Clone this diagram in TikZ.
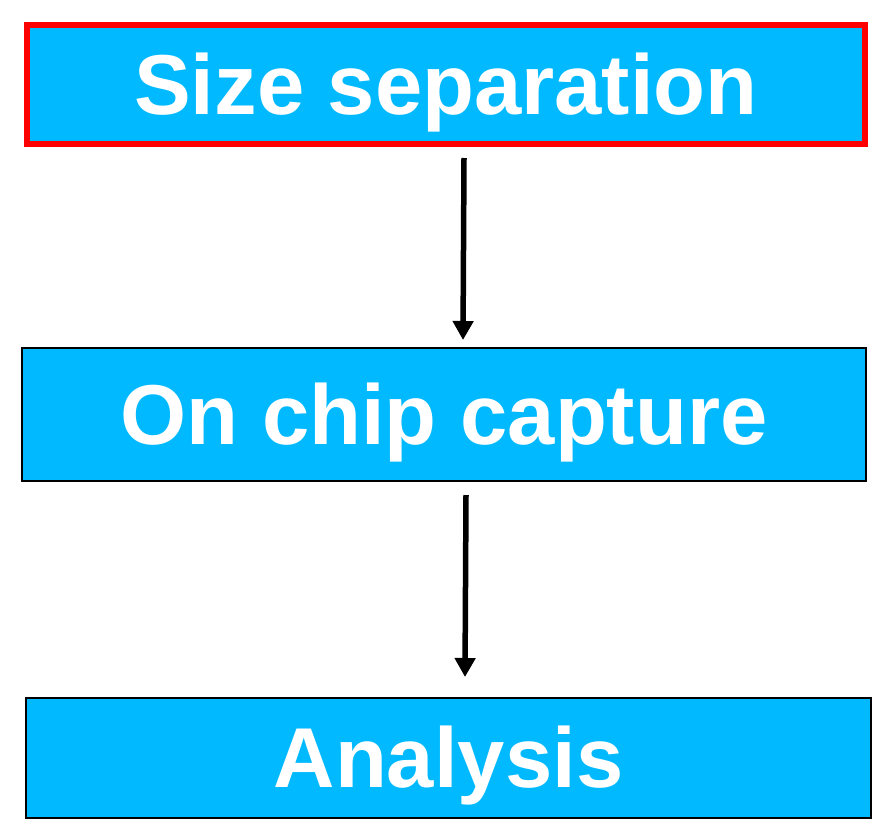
\documentclass[tikz,border=0pt]{standalone}
\usepackage{fontspec}
\setmainfont{Liberation Sans}
\usetikzlibrary{arrows.meta}
\definecolor{boxcyan}{RGB}{0,185,255}
\definecolor{boxred}{RGB}{255,0,0}
\tikzset{
  stepbox/.style={rectangle, fill=boxcyan, draw=black, line width=2pt,
    text=white, font=\fontsize{85}{90}\selectfont\bfseries, inner sep=0pt,
    text height=77pt, text depth=18pt},
  flow/.style={line width=5.5pt, -{Triangle[length=19pt,width=20pt]}}
}
\begin{document}
\begin{tikzpicture}[x=1pt,y=-1pt]
\useasboundingbox (0,0) rectangle (885,819);
\node[stepbox, draw=boxred, line width=6pt, minimum width=838pt, minimum height=119pt] (s) at (446,84.5) {Size separation};
\node[stepbox, minimum width=844pt, minimum height=133pt] (c) at (444,414.5) {On chip capture};
\node[stepbox, minimum width=845pt, minimum height=120pt] (a) at (448.5,758) {Analysis};
\coordinate (s1) at (464,158);
\coordinate (c0) at (463,340);
\coordinate (c1) at (466,495);
\coordinate (a0) at (465,677);
\draw[flow] (s1) -- (c0);
\draw[flow] (c1) -- (a0);
\end{tikzpicture}
\end{document}
